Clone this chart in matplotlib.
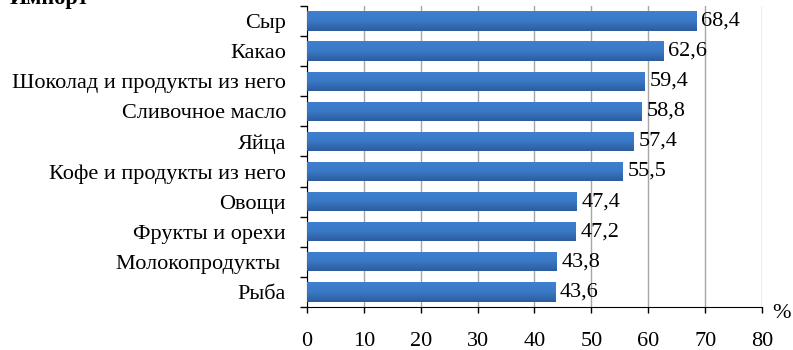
import matplotlib
matplotlib.use("Agg")
import matplotlib.pyplot as plt
import numpy as np

plt.rcParams['font.family'] = ['Liberation Serif', 'DejaVu Serif']

categories = ["Сыр", "Какао", "Шоколад и продукты из него", "Сливочное масло", "Яйца",
              "Кофе и продукты из него", "Овощи", "Фрукты и орехи", "Молокопродукты ", "Рыба"]
values = [68.4, 62.6, 59.4, 58.8, 57.4, 55.5, 47.4, 47.2, 43.8, 43.6]
labels = ["68,4", "62,6", "59,4", "58,8", "57,4", "55,5", "47,4", "47,2", "43,8", "43,6"]
xticks = [0, 10, 20, 30, 40, 50, 60, 70, 80]

fig = plt.figure(figsize=(7.93, 3.5), dpi=100)
ax = fig.add_axes([0.387, 0.123, 0.574, 0.860])

y = np.arange(len(categories))[::-1]
bar_h = 0.64
bars = ax.barh(y, values, height=bar_h, color="#3670BA", zorder=2)

# vertical gradient on each bar (light top, dark bottom)
grad = np.linspace(0, 1, 64).reshape(-1, 1)
cmap = matplotlib.colors.LinearSegmentedColormap.from_list("b", ["#2C5C9E", "#3A79C6", "#3F80CF"])
for b in bars:
    x0, y0 = b.get_x(), b.get_y()
    im = ax.imshow(grad, cmap=cmap, aspect="auto", origin="lower",
                   extent=[x0, x0 + b.get_width(), y0, y0 + b.get_height()], zorder=3)
    im.set_clip_path(b)

for yi, v, t in zip(y, values, labels):
    ax.text(v + 0.9, yi, t, va="center", ha="left", fontsize=16, color="black", zorder=4)

ax.set_xlim(0, 80)
ax.set_ylim(-0.5, len(categories) - 0.5)
ax.set_xticks(xticks)
ax.set_xticklabels([str(t) for t in xticks], fontsize=16)
ax.set_yticks(y)
ax.set_yticklabels(categories, fontsize=16)
ax.set_yticks(np.arange(-0.5, len(categories), 1), minor=True)
ax.tick_params(axis="y", which="major", length=0, pad=15)
ax.tick_params(axis="y", which="minor", length=5, width=1, direction="out")
ax.tick_params(axis="x", which="major", length=4, width=1, direction="out", pad=14)

ax.grid(axis="x", color="#A6A6A6", linewidth=1, zorder=0)
ax.set_axisbelow(True)
for s in ["top", "right"]:
    ax.spines[s].set_visible(False)
ax.spines["left"].set_color("black")
ax.spines["bottom"].set_color("black")

fig.text(0.985, 0.105, "%", fontsize=16, ha="center", va="center")
fig.text(0.012, 0.988, "Импорт", fontsize=16, fontweight="bold", ha="left", va="baseline")

fig.savefig("out.png", dpi=100)
